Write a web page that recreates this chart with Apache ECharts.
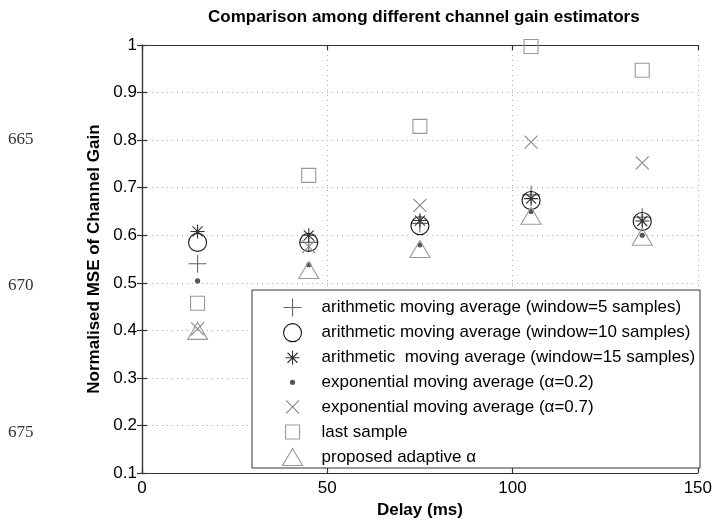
<!DOCTYPE html>
<html>
<head>
<meta charset="UTF-8">
<title>Comparison among different channel gain estimators</title>
<script src="https://cdn.jsdelivr.net/npm/echarts@6/dist/echarts.min.js"></script>
<style>
  html, body { margin: 0; padding: 0; background: #fff; }
  #chart { width: 715px; height: 524px; }
</style>
</head>
<body>
<div id="chart"></div>
<script>
// delay values (ms)
const delays = [15, 45, 75, 105, 135];
const xTicks = [0, 50, 100, 150];
const yTicks = [0.1, 0.2, 0.3, 0.4, 0.5, 0.6, 0.7, 0.8, 0.9, 1];

// normalised MSE
const amaW5 = [0.54, 0.585, 0.625, 0.685, 0.638];
const amaW10 = [0.585, 0.585, 0.62, 0.673, 0.629];
const amaW15 = [0.608, 0.6, 0.631, 0.677, 0.63];
const emaA02 = [0.504, 0.538, 0.58, 0.65, 0.6];
const emaA07 = [0.403, 0.576, 0.663, 0.796, 0.752];
const lastSample = [0.457, 0.726, 0.829, 0.997, 0.947];
const adaptive = [0.399, 0.527, 0.571, 0.641, 0.597];

const names = [
  "arithmetic moving average (window=5 samples)",
  "arithmetic moving average (window=10 samples)",
  "arithmetic  moving average (window=15 samples)",
  "exponential moving average (\u03b1=0.2)",
  "exponential moving average (\u03b1=0.7)",
  "last sample",
  "proposed adaptive \u03b1",
];

// marker shapes in a 20x20 box so every one keeps its own size
const box = "M-10,-10M10,10";
const marks = {
  plus: "path://" + box + "M0,-9L0,9M-9,0L9,0",
  circle: "path://" + box + "M9,0A9,9,0,1,1,-9,0A9,9,0,1,1,9,0Z",
  star: "path://" + box + "M0,-7L0,7M-7,0L7,0M-5,-5L5,5M-5,5L5,-5",
  dot: "path://" + box + "M2.6,0A2.6,2.6,0,1,1,-2.6,0A2.6,2.6,0,1,1,2.6,0Z",
  cross: "path://" + box + "M-6.5,-6.5L6.5,6.5M-6.5,6.5L6.5,-6.5",
  square: "path://" + box + "M-7,-7L7,-7L7,7L-7,7Z",
  triangle: "path://" + box + "M0,-8.5L10,8.5L-10,8.5Z",
};

const font = "'Liberation Sans', Arial, Helvetica, sans-serif";

function pts(vals) {
  return delays.map((d, i) => [d, vals[i]]);
}

function markSeries(name, vals, symbol, stroke, filled) {
  return {
    name: name,
    type: "scatter",
    data: pts(vals),
    symbol: symbol,
    symbolSize: 20,
    xAxisIndex: 0,
    yAxisIndex: 0,
    itemStyle: {
      color: filled ? stroke : "rgba(0,0,0,0)",
      borderColor: stroke,
      borderWidth: filled ? 0 : 1.1,
      opacity: 1,
    },
    emphasis: { disabled: true },
  };
}

const series = [
  markSeries(names[0], amaW5, marks.plus, "#666", false),
  markSeries(names[1], amaW10, marks.circle, "#111", false),
  markSeries(names[2], amaW15, marks.star, "#333", false),
  markSeries(names[3], emaA02, marks.dot, "#555", true),
  markSeries(names[4], emaA07, marks.cross, "#888", false),
  markSeries(names[5], lastSample, marks.square, "#999", false),
  markSeries(names[6], adaptive, marks.triangle, "#999", false),
];

const legendData = series.map((s) => ({
  name: s.name,
  icon: s.symbol,
  itemStyle: {
    color: s.itemStyle.color,
    borderColor: s.itemStyle.borderColor,
    borderWidth: s.itemStyle.borderWidth,
  },
}));

const axisLineStyle = { color: "#333", width: 1.2 };
const gridLine = { show: true, lineStyle: { color: "#aaa", type: [1, 4], width: 1 } };

const chart = echarts.init(document.getElementById("chart"));

chart.setOption({
  animation: false,
  backgroundColor: "#fff",
  title: {
    text: "Comparison among different channel gain estimators",
    left: 208,
    top: 9,
    padding: 0,
    textStyle: { fontFamily: font, fontSize: 17, fontWeight: "bold", color: "#000" },
  },
  grid: { left: 142, right: 12, top: 45, bottom: 47 },
  xAxis: [
    {
      type: "value",
      position: "bottom",
      min: xTicks[0],
      max: xTicks[xTicks.length - 1],
      interval: xTicks[1] - xTicks[0],
      name: "Delay (ms)",
      nameLocation: "middle",
      nameGap: 23,
      nameTextStyle: { fontFamily: font, fontSize: 17, fontWeight: "bold", color: "#000" },
      axisLine: { show: true, lineStyle: axisLineStyle },
      axisTick: { show: true, inside: true, length: 5, lineStyle: axisLineStyle },
      axisLabel: { fontFamily: font, fontSize: 17, color: "#000", margin: 7 },
      splitLine: gridLine,
    },
    {
      type: "value",
      position: "top",
      min: xTicks[0],
      max: xTicks[xTicks.length - 1],
      interval: xTicks[1] - xTicks[0],
      axisLine: { show: true, lineStyle: axisLineStyle },
      axisTick: { show: true, inside: true, length: 5, lineStyle: axisLineStyle },
      axisLabel: { show: false },
      splitLine: { show: false },
    },
  ],
  yAxis: [
    {
      type: "value",
      position: "left",
      min: yTicks[0],
      max: yTicks[yTicks.length - 1],
      interval: 0.1,
      name: "Normalised MSE of Channel Gain",
      nameLocation: "middle",
      nameGap: 38,
      nameTextStyle: { fontFamily: font, fontSize: 17, fontWeight: "bold", color: "#000" },
      axisLine: { show: true, lineStyle: axisLineStyle },
      axisTick: { show: true, inside: true, length: 5, lineStyle: axisLineStyle },
      axisLabel: {
        fontFamily: font,
        fontSize: 17,
        color: "#000",
        margin: 5,
        formatter: (v) => String(+v.toFixed(1)),
      },
      splitLine: gridLine,
    },
    {
      type: "value",
      position: "right",
      min: yTicks[0],
      max: yTicks[yTicks.length - 1],
      interval: 0.1,
      axisLine: { show: true, lineStyle: axisLineStyle },
      axisTick: { show: true, inside: true, length: 5, lineStyle: axisLineStyle },
      axisLabel: { show: false },
      splitLine: { show: false },
    },
  ],
  legend: {
    orient: "vertical",
    left: 282,
    top: 297,
    padding: 0,
    itemWidth: 48,
    itemHeight: 20,
    itemGap: 4,
    selectedMode: false,
    symbolKeepAspect: true,
    z: 6,
    textStyle: { fontFamily: font, fontSize: 17, color: "#000" },
    data: legendData,
  },
  graphic: [
    {
      type: "rect",
      z: 3,
      shape: { x: 252, y: 290, width: 448, height: 178 },
      style: { fill: "#fff", stroke: "#333", lineWidth: 1 },
    },
    // line numbers from the source page
    { type: "text", x: 8, y: 140, style: { text: "665", font: "17px 'Liberation Serif', serif", fill: "#333", verticalAlign: "middle" } },
    { type: "text", x: 8, y: 286, style: { text: "670", font: "17px 'Liberation Serif', serif", fill: "#333", verticalAlign: "middle" } },
    { type: "text", x: 8, y: 433, style: { text: "675", font: "17px 'Liberation Serif', serif", fill: "#333", verticalAlign: "middle" } },
  ],
  series: series,
});
</script>
</body>
</html>
